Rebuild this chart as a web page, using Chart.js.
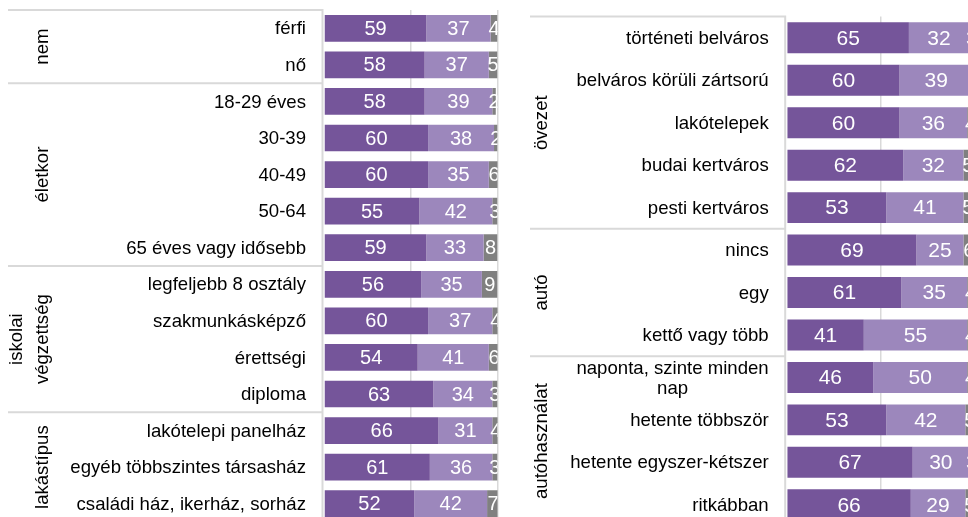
<!DOCTYPE html>
<html>
<head>
<meta charset="utf-8">
<script src="https://cdn.jsdelivr.net/npm/chart.js@4.4.0/dist/chart.umd.min.js"></script>
<style>
  html, body { margin: 0; padding: 0; width: 968px; height: 517px; overflow: hidden; background: #fff; }
  .panel { position: absolute; top: 0; }
  #leftPanel { left: 0; width: 510px; height: 530px; }
  #rightPanel { left: 520px; width: 470px; height: 540px; }
</style>
</head>
<body>
<div class="panel" id="leftPanel"><canvas id="leftChart"></canvas></div>
<div class="panel" id="rightPanel"><canvas id="rightChart"></canvas></div>
<script>
// ---- Left panel: demographic breakdown ----
const leftCategories = [
  'férfi', 'nő',
  '18-29 éves', '30-39', '40-49', '50-64', '65 éves vagy idősebb',
  'legfeljebb 8 osztály', 'szakmunkásképző', 'érettségi', 'diploma',
  'lakótelepi panelház', 'egyéb többszintes társasház', 'családi ház, ikerház, sorház'
];
const leftGroupNames = [['nem'], ['életkor'], ['iskolai', 'végzettség'], ['lakástípus']];
const leftGroupSizes = [2, 5, 4, 3];
const leftSeries1 = [59, 58, 58, 60, 60, 55, 59, 56, 60, 54, 63, 66, 61, 52];
const leftSeries2 = [37, 37, 39, 38, 35, 42, 33, 35, 37, 41, 34, 31, 36, 42];
const leftSeries3 = [4, 5, 2, 2, 6, 3, 8, 9, 4, 6, 3, 4, 3, 7];

// ---- Right panel: district and car ownership/usage ----
const rightCategories = [
  'történeti belváros', 'belváros körüli zártsorú', 'lakótelepek', 'budai kertváros', 'pesti kertváros',
  'nincs', 'egy', 'kettő vagy több',
  ['naponta, szinte minden', 'nap'], 'hetente többször', 'hetente egyszer-kétszer', 'ritkábban'
];
const rightGroupNames = [['övezet'], ['autó'], ['autóhasználat']];
const rightGroupSizes = [5, 3, 4];
const rightSeries1 = [65, 60, 60, 62, 53, 69, 61, 41, 46, 53, 67, 66];
const rightSeries2 = [32, 39, 36, 32, 41, 25, 35, 55, 50, 42, 30, 29];
const rightSeries3 = [3, 2, 4, 5, 5, 6, 4, 4, 4, 5, 3, 5];

const SEGMENT_COLORS = ['#75559a', '#9c87bc', '#808080'];
const FONT_FAMILY = '"Liberation Sans", Arial, Helvetica, sans-serif';
const LINE_COLOR = '#d9d9d9';

// White numbers centred inside every bar segment, clipped to the plot area
const segmentValues = {
  id: 'segmentValues',
  afterDatasetsDraw(chart, args, opts) {
    const { ctx, chartArea: a } = chart;
    ctx.save();
    ctx.beginPath();
    ctx.rect(a.left, a.top, a.right - a.left, a.bottom - a.top);
    ctx.clip();
    ctx.font = opts.font;
    ctx.fillStyle = '#ffffff';
    ctx.textAlign = 'center';
    ctx.textBaseline = 'middle';
    chart.data.datasets.forEach((ds, i) => {
      chart.getDatasetMeta(i).data.forEach((bar, j) => {
        ctx.fillText(String(ds.data[j]), (bar.x + bar.base) / 2, bar.y + 1);
      });
    });
    ctx.restore();
  }
};

// Two-level category axis: group separators, category labels and rotated group titles
const groupedAxis = {
  id: 'groupedAxis',
  afterDraw(chart, args, o) {
    const { ctx, chartArea: a } = chart;
    const y = chart.scales.y;
    const n = chart.data.labels.length;
    const band = (y.getPixelForValue(n - 1) - y.getPixelForValue(0)) / (n - 1);
    const edge = i => y.getPixelForValue(i) - band / 2;
    const axisX = a.left - 1.5;

    const bounds = [0];
    o.sizes.forEach(s => bounds.push(bounds[bounds.length - 1] + s));

    ctx.save();
    ctx.strokeStyle = LINE_COLOR;
    ctx.lineWidth = 2;
    ctx.beginPath();
    bounds.forEach(b => {
      const yy = edge(b);
      ctx.moveTo(o.lineLeft, yy);
      ctx.lineTo(axisX, yy);
    });
    ctx.moveTo(axisX, edge(0) - 1);
    ctx.lineTo(axisX, edge(n));
    ctx.stroke();

    ctx.fillStyle = '#000000';
    ctx.font = o.font;
    ctx.textAlign = 'center';
    ctx.textBaseline = 'middle';
    chart.data.labels.forEach((lab, i) => {
      const lines = Array.isArray(lab) ? lab : [lab];
      const w = Math.max(...lines.map(t => ctx.measureText(t).width));
      const cx = a.left - o.labelGap - w / 2;
      const cy = y.getPixelForValue(i);
      lines.forEach((t, k) => {
        ctx.fillText(t, cx, cy + 1 + (k - (lines.length - 1) / 2) * o.lineHeight);
      });
    });

    ctx.textBaseline = 'alphabetic';
    o.groups.forEach((g, gi) => {
      const cy = (edge(bounds[gi]) + edge(bounds[gi + 1])) / 2;
      ctx.save();
      ctx.translate(o.groupX, cy);
      ctx.rotate(-Math.PI / 2);
      g.forEach((t, k) => {
        ctx.fillText(t, 0, -(g.length - 1 - k) * o.groupLineGap);
      });
      ctx.restore();
    });
    ctx.restore();
  }
};

function makePanel(canvasId, categories, s1, s2, s3, groups, sizes, layout) {
  return new Chart(document.getElementById(canvasId), {
    type: 'bar',
    data: {
      labels: categories,
      datasets: [s1, s2, s3].map((d, i) => ({
        data: d,
        backgroundColor: SEGMENT_COLORS[i],
        borderWidth: 0,
        categoryPercentage: 1,
        barPercentage: 0.73
      }))
    },
    options: {
      indexAxis: 'y',
      animation: false,
      responsive: true,
      maintainAspectRatio: false,
      layout: { padding: layout.padding },
      plugins: {
        legend: { display: false },
        tooltip: { enabled: false },
        segmentValues: { font: layout.valueFont },
        groupedAxis: {
          sizes: sizes,
          groups: groups,
          font: layout.labelFont,
          lineLeft: layout.lineLeft,
          labelGap: 18,
          lineHeight: 20,
          groupX: layout.groupX,
          groupLineGap: 26
        }
      },
      scales: {
        x: {
          stacked: true,
          min: 0,
          max: 100,
          ticks: { display: false, stepSize: 50 },
          border: { display: false },
          grid: {
            drawTicks: false,
            lineWidth: 1.5,
            color: c => (c.tick && c.tick.value > 0) ? LINE_COLOR : 'rgba(0,0,0,0)'
          },
          afterFit: s => { s.height = 0; }
        },
        y: { stacked: true, display: false }
      }
    },
    plugins: [segmentValues, groupedAxis]
  });
}

makePanel('leftChart', leftCategories, leftSeries1, leftSeries2, leftSeries3,
  leftGroupNames, leftGroupSizes, {
    padding: { left: 324, right: 12.5, top: 10, bottom: 8 },
    valueFont: '20px ' + FONT_FAMILY,
    labelFont: '18.6px ' + FONT_FAMILY,
    lineLeft: 8,
    groupX: 48
  });

makePanel('rightChart', rightCategories, rightSeries1, rightSeries2, rightSeries3,
  rightGroupNames, rightGroupSizes, {
    padding: { left: 266.7, right: 15.3, top: 16.6, bottom: 14 },
    valueFont: '21px ' + FONT_FAMILY,
    labelFont: '18.6px ' + FONT_FAMILY,
    lineLeft: 10,
    groupX: 27
  });
</script>
</body>
</html>
